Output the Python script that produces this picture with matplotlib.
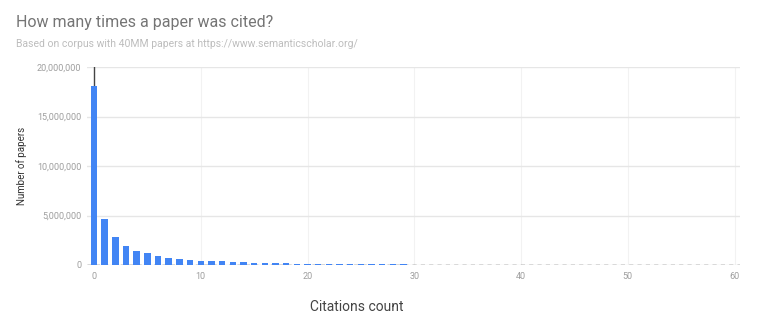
import matplotlib.pyplot as plt
from matplotlib.ticker import FuncFormatter

plt.rcParams['font.family'] = ['Roboto', 'DejaVu Sans']

citations = list(range(0, 61))
papers = [18100000, 4600000, 2800000, 1950000, 1450000, 1180000, 940000, 740000, 640000, 500000,
          450000, 380000, 360000, 300000, 260000, 240000, 220000, 190000, 170000, 150000,
          140000, 120000, 110000, 100000, 90000, 80000, 75000, 70000, 60000, 55000,
          50000, 46000, 42000, 39000, 36000, 33000, 31000, 29000, 27000, 25000,
          23000, 22000, 20000, 19000, 18000, 17000, 16000, 15000, 14000, 13000,
          12500, 12000, 11000, 10500, 10000, 9500, 9000, 8500, 8000, 7500, 7000]
x_ticks = [0, 10, 20, 30, 40, 50, 60]
y_ticks = [0, 5000000, 10000000, 15000000, 20000000]

fig = plt.figure(figsize=(7.58, 3.32), dpi=100)
ax = fig.add_axes([87 / 758, 1 - 265 / 332, (740 - 87) / 758, (265 - 67) / 332])

ax.bar(citations, papers, width=0.6, color='#4285f4', zorder=3)
ax.axhline(0, color='#555555', lw=1, ls=(0, (3, 3)), zorder=2)
ax.plot([0, 0], [0, 20000000], color='#444444', lw=1, zorder=2)

ax.set_xlim(-0.65, 60.5)
ax.set_ylim(0, 20000000)
ax.set_xticks(x_ticks)
ax.set_yticks(y_ticks)
ax.yaxis.set_major_formatter(FuncFormatter(lambda v, p: f'{int(v):,}'))
ax.grid(axis='y', color='#e6e6e6', lw=1, zorder=0)
ax.grid(axis='x', color='#f2f2f2', lw=0.8, zorder=0)
for s in ax.spines.values():
    s.set_visible(False)
ax.tick_params(length=0, labelsize=6.5, labelcolor='#9e9e9e')
ax.tick_params(axis='x', pad=5)
ax.tick_params(axis='y', pad=4)

fig.text(22 / 758, 1 - 166 / 332, 'Number of papers', fontsize=7, color='#333333',
         rotation=90, va='center', ha='center')
fig.text(310 / 758, 1 - 307 / 332, 'Citations count', fontsize=10, color='#444444', va='center')

fig.text(16 / 758, 1 - 22 / 332, 'How many times a paper was cited?', fontsize=11.5,
         color='#757575', va='center')
fig.text(16 / 758, 1 - 44 / 332, 'Based on corpus with 40MM papers at https://www.semanticscholar.org/',
         fontsize=7.5, color='#bdbdbd', va='center')

fig.savefig('out.png', dpi=100)
